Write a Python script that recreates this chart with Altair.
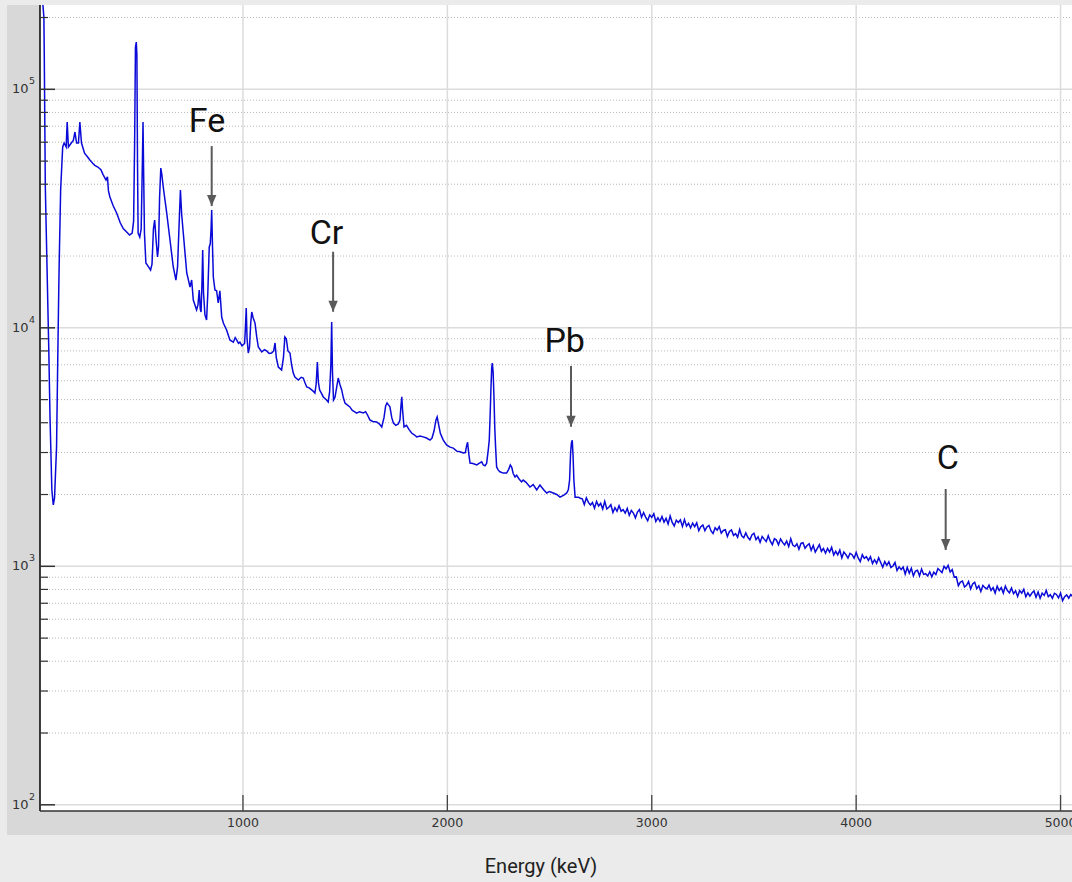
import altair as alt
import pandas as pd

# ---------------------------------------------------------------------------
# Gamma-ray spectrum: energy (keV) vs counts
# ---------------------------------------------------------------------------
# Low/mid energy part, read point by point (irregular spacing around peaks)
peak_keV = [
    7, 13, 26, 28, 33, 50, 56, 65, 72, 78,
    88, 94, 100, 108, 118, 125, 135, 140, 146, 160,
    170, 178, 186, 195, 202, 210, 225, 240, 251, 265,
    275, 290, 305, 315, 330, 337, 342, 349, 365, 382,
    400, 415, 431, 445, 458, 465, 470, 474, 478, 481,
    484, 487, 495, 502, 508, 511, 514, 518, 525, 538,
    548, 555, 562, 568, 575, 582, 587, 592, 598, 603,
    610, 627, 643, 659, 672, 680, 686, 694, 700, 708,
    725, 741, 749, 757, 773, 780, 786, 791, 795, 800,
    803, 807, 814, 822, 828, 835, 840, 844, 847, 851,
    855, 863, 871, 879, 887, 896, 904, 920, 936, 953,
    962, 969, 978, 985, 995, 1008, 1012, 1016, 1020, 1026,
    1032, 1038, 1043, 1050, 1059, 1067, 1075, 1092, 1105, 1116,
    1128, 1140, 1150, 1157, 1163, 1173, 1189, 1198, 1205, 1212,
    1220, 1230, 1238, 1246, 1254, 1271, 1285, 1295, 1303, 1312,
    1324, 1336, 1346, 1352, 1358, 1364, 1369, 1375, 1385, 1393,
    1409, 1417, 1424, 1430, 1434, 1438, 1443, 1450, 1458, 1466,
    1474, 1483, 1491, 1499, 1510, 1523, 1535, 1545, 1556, 1570,
    1589, 1600, 1610, 1621, 1635, 1654, 1668, 1679, 1690, 1698,
    1705, 1712, 1719, 1728, 1736, 1748, 1760, 1768, 1773, 1777,
    1781, 1788, 1800, 1812, 1825, 1838, 1850, 1866, 1882, 1898,
    1915, 1925, 1935, 1944, 1950, 1958, 1966, 1980, 1996, 2013,
    2029, 2046, 2062, 2078, 2088, 2094, 2099, 2105, 2111, 2125,
    2144, 2155, 2168, 2176, 2184, 2192, 2200, 2205, 2210, 2213,
    2217, 2220, 2224, 2228, 2232, 2236, 2241, 2249, 2257, 2273,
    2290, 2300, 2308, 2315, 2322, 2331, 2339, 2350, 2363, 2371,
    2385, 2404, 2420, 2437, 2453, 2470, 2486, 2500, 2518, 2535,
    2551, 2570, 2584, 2592, 2598, 2603, 2607, 2611, 2615, 2619,
    2625, 2641, 2650,
]
peak_counts = [
    300000, 280000, 200000, 136600, 38940, 8070, 4230, 2090, 1810, 1930,
    3160, 7540, 16980, 37830, 57300, 59540, 57300, 72950, 57300, 59540,
    61000, 66220, 59540, 59540, 72950, 59540, 54000, 52000, 50520, 49000,
    48000, 47230, 46000, 44000, 41660, 43000, 37500, 35350, 32500, 30290,
    27500, 26000, 25220, 24500, 24970, 28000, 60000, 150000, 157900, 140000,
    50000, 24970, 24030, 26000, 50000, 72950, 45000, 24970, 18700, 18000,
    17470, 18500, 26000, 28310, 23350, 19810, 22000, 35000, 46770, 44000,
    38940, 30290, 23350, 17990, 15860, 18000, 25000, 37830, 30000, 24970,
    16980, 14830, 15860, 13080, 11880, 12500, 14400, 12000, 11650, 16000,
    21200, 14000, 11320, 10780, 14000, 21820, 22500, 26000, 31180, 22000,
    16330, 14400, 14300, 12710, 14300, 11100, 10470, 9790, 8890, 8700,
    9100, 8900, 8600, 8700, 8400, 8600, 10000, 12110, 9000, 7840,
    8300, 10500, 11650, 11000, 10470, 9200, 8310, 7920, 8100, 8000,
    7800, 7840, 8000, 8640, 7500, 6850, 6660, 7500, 9150, 9000,
    8000, 7840, 7000, 6460, 6220, 6040, 6200, 6160, 5900, 5650,
    5600, 5490, 5400, 5330, 5800, 7190, 5900, 5490, 5300, 5130,
    4980, 4890, 5400, 7000, 10570, 6500, 4980, 5100, 5600, 6160,
    5800, 5490, 5100, 4840, 4750, 4660, 4500, 4450, 4390, 4450,
    4400, 4450, 4300, 4110, 4050, 4030, 3950, 3840, 4200, 4700,
    4840, 4750, 4660, 4200, 3990, 3900, 3950, 4100, 4700, 5140,
    4500, 3840, 3900, 3750, 3620, 3560, 3490, 3520, 3490, 3450,
    3380, 3450, 3700, 4100, 4230, 3900, 3600, 3380, 3230, 3160,
    3130, 3040, 3020, 2990, 3000, 3200, 3310, 2950, 2710, 2700,
    2660, 2700, 2740, 2660, 2640, 2700, 3070, 3380, 4500, 5490,
    6800, 7120, 6500, 5130, 3800, 3160, 2610, 2530, 2490, 2460,
    2460, 2550, 2660, 2600, 2450, 2370, 2410, 2330, 2260, 2300,
    2250, 2150, 2200, 2090, 2190, 2100, 2030, 2060, 2030, 2000,
    1950, 1990, 2030, 2100, 2300, 3000, 3290, 3380, 2900, 2300,
    1950, 1950, 1930,
]

# High energy continuum, 10 keV bins starting at 2660 keV
tail_start_keV = 2660
tail_step_keV = 10
tail_counts = [
    1918, 1815, 1936, 1853, 1807, 1853, 1753, 1872, 1790, 1836,
    1738, 1873, 1740, 1768, 1813, 1682, 1761, 1701, 1797, 1703,
    1729, 1670, 1747, 1637, 1714, 1672, 1597, 1689, 1730, 1607,
    1681, 1609, 1553, 1643, 1604, 1661, 1542, 1599, 1544, 1617,
    1533, 1590, 1506, 1625, 1527, 1476, 1562, 1526, 1566, 1470,
    1570, 1474, 1514, 1448, 1518, 1467, 1521, 1412, 1466, 1489,
    1410, 1462, 1485, 1407, 1373, 1452, 1418, 1468, 1378, 1414,
    1423, 1334, 1399, 1421, 1348, 1370, 1324, 1428, 1341, 1318,
    1380, 1323, 1292, 1355, 1377, 1294, 1329, 1260, 1334, 1300,
    1270, 1344, 1275, 1233, 1306, 1288, 1232, 1303, 1260, 1230,
    1276, 1210, 1305, 1227, 1210, 1243, 1178, 1247, 1256, 1191,
    1223, 1243, 1167, 1223, 1147, 1190, 1232, 1156, 1187, 1135,
    1188, 1148, 1201, 1116, 1156, 1117, 1169, 1085, 1148, 1120,
    1083, 1134, 1119, 1082, 1144, 1084, 1046, 1118, 1080, 1097,
    1059, 1097, 1028, 1066, 1029, 1086, 1038, 991, 1047, 1010,
    1045, 989, 1003, 1037, 961, 995, 969, 992, 928, 989,
    936, 981, 911, 955, 962, 912, 974, 925, 931, 911,
    949, 904, 945, 923, 979, 960, 941, 1000, 975, 1009,
    946, 968, 901, 903, 830, 859, 867, 819, 832, 863,
    803, 843, 857, 806, 828, 785, 832, 814, 804, 834,
    792, 814, 772, 826, 792, 814, 772, 826, 792, 774,
    811, 768, 789, 747, 791, 772, 801, 745, 774, 750,
    773, 788, 742, 780, 734, 772, 755, 792, 746, 760,
    735, 771, 762, 737, 773, 718, 746, 759, 735, 762,
    745,
]

tail_keV = [tail_start_keV + tail_step_keV * i for i in range(len(tail_counts))]
spectrum = pd.DataFrame({
    "energy": peak_keV + tail_keV,
    "counts": peak_counts + tail_counts,
})

# Axis ticks
x_ticks = [1000, 2000, 3000, 4000, 5000]
x_tick_labels = ["1000", "2000", "3000", "4000", "5000"]
decades = [100, 1000, 10000, 100000]
decade_exponents = ["2", "3", "4", "5"]
minor_ticks = [m * 10 ** k for k in (2, 3, 4) for m in range(2, 10)] + [200000]

# Peak annotations
ann_labels = ["Fe", "Cr", "Pb", "C"]
ann_label_keV = [824, 1409, 2574, 4449]
ann_label_counts = [66200, 22460, 7940, 2559]
ann_arrow_keV = [847, 1441, 2605, 4438]
ann_arrow_top = [57800, 20840, 6920, 2109]
ann_arrow_tip = [32400, 11680, 3848, 1170]

# ---------------------------------------------------------------------------
W, H = 1032, 806
xs = alt.Scale(domain=[7, 5056], nice=False, zero=False)
ys = alt.Scale(type="log", domain=[94.2, 225700], nice=False)

one = pd.DataFrame({"k": [0]})
decade_df = pd.DataFrame({"v": decades, "exp": decade_exponents})
minor_df = pd.DataFrame({"v": minor_ticks})
xtick_df = pd.DataFrame({"e": x_ticks, "lab": x_tick_labels})
ann_df = pd.DataFrame({
    "label": ann_labels, "lx": ann_label_keV, "ly": ann_label_counts,
    "ax": ann_arrow_keV, "atop": ann_arrow_top, "atip": ann_arrow_tip,
})

band_color = "#d8d8d8"
left_band = alt.Chart(one).mark_rect(color=band_color).encode(
    x=alt.value(-33), x2=alt.value(0), y=alt.value(0), y2=alt.value(830))
bottom_band = alt.Chart(one).mark_rect(color=band_color).encode(
    x=alt.value(-33), x2=alt.value(W), y=alt.value(H), y2=alt.value(830))

minor_grid = alt.Chart(minor_df).mark_rule(
    color="#b8b8b8", strokeWidth=1, strokeDash=[1, 2]).encode(
    y=alt.Y("v:Q", scale=ys, axis=None), x=alt.value(0), x2=alt.value(W))
major_grid = alt.Chart(decade_df).mark_rule(
    color="#dcdcdc", strokeWidth=1.5).encode(
    y=alt.Y("v:Q", scale=ys, axis=None), x=alt.value(0), x2=alt.value(W))
vert_grid = alt.Chart(xtick_df).mark_rule(
    color="#dcdcdc", strokeWidth=1.5).encode(
    x=alt.X("e:Q", scale=xs, axis=None), y=alt.value(0), y2=alt.value(H))

line = alt.Chart(spectrum).mark_line(
    color="#0a0ad8", strokeWidth=1.5, clip=True).encode(
    x=alt.X("energy:Q", scale=xs, axis=None),
    y=alt.Y("counts:Q", scale=ys, axis=None),
    order="energy:Q")

y_axis_line = alt.Chart(one).mark_rule(color="#000000", strokeWidth=1.5).encode(
    x=alt.value(0), y=alt.value(0), y2=alt.value(H))
x_axis_line = alt.Chart(one).mark_rule(color="#333333", strokeWidth=1.5).encode(
    x=alt.value(0), x2=alt.value(W), y=alt.value(H))

y_major_ticks = alt.Chart(decade_df).mark_rule(color="#333333", strokeWidth=1.5).encode(
    y=alt.Y("v:Q", scale=ys, axis=None), x=alt.value(0), x2=alt.value(15))
y_minor_ticks = alt.Chart(minor_df).mark_rule(color="#333333", strokeWidth=1.2).encode(
    y=alt.Y("v:Q", scale=ys, axis=None), x=alt.value(0), x2=alt.value(8))
x_major_ticks = alt.Chart(xtick_df).mark_rule(color="#444444", strokeWidth=1.3).encode(
    x=alt.X("e:Q", scale=xs, axis=None), y=alt.value(H - 16), y2=alt.value(H))

y_labels = alt.Chart(decade_df).mark_text(
    font="DejaVu Sans", fontSize=13, color="#333333", align="right", baseline="middle").encode(
    y=alt.Y("v:Q", scale=ys, axis=None), x=alt.value(-11.5), text=alt.value("10"))
y_exps = alt.Chart(decade_df).mark_text(
    font="DejaVu Sans", fontSize=9.5, color="#333333", align="left", baseline="middle", dy=-8).encode(
    y=alt.Y("v:Q", scale=ys, axis=None), x=alt.value(-11), text="exp:N")
x_labels = alt.Chart(xtick_df).mark_text(
    font="DejaVu Sans", fontSize=12.5, color="#333333", align="center", baseline="middle").encode(
    x=alt.X("e:Q", scale=xs, axis=None), y=alt.value(H + 12), text="lab:N")
x_title = alt.Chart(one).mark_text(
    font="Roboto", fontSize=20, color="#222222", align="center", baseline="middle").encode(
    x=alt.value(501), y=alt.value(862), text=alt.value("Energy (keV)"))

ann_text = alt.Chart(ann_df).mark_text(
    font="Roboto", fontSize=34, color="#111111", align="center", baseline="alphabetic").encode(
    x=alt.X("lx:Q", scale=xs, axis=None), y=alt.Y("ly:Q", scale=ys, axis=None), text="label:N")
ann_shaft = alt.Chart(ann_df).mark_rule(color="#5a5a5a", strokeWidth=2).encode(
    x=alt.X("ax:Q", scale=xs, axis=None), y=alt.Y("atop:Q", scale=ys, axis=None), y2="atip:Q")
ann_head = alt.Chart(ann_df).mark_point(
    shape="M -0.94 -2.2 L 0.94 -2.2 L 0 0 Z", size=100, filled=True,
    color="#5a5a5a", opacity=1, strokeWidth=0).encode(
    x=alt.X("ax:Q", scale=xs, axis=None), y=alt.Y("atip:Q", scale=ys, axis=None))

chart = alt.layer(
    left_band, bottom_band,
    minor_grid, major_grid, vert_grid,
    line,
    y_axis_line, x_axis_line, y_major_ticks, y_minor_ticks, x_major_ticks,
    y_labels, y_exps, x_labels, x_title,
    ann_shaft, ann_head, ann_text,
).properties(
    width=W, height=H,
    padding={"left": 40, "top": 5, "right": 0, "bottom": 71},
    autosize=alt.AutoSizeParams(type="none"),
    background="#ebebeb",
).configure_view(stroke=None, fill="white")

chart.save("out.html", embed_options={"renderer": "svg", "actions": False})
